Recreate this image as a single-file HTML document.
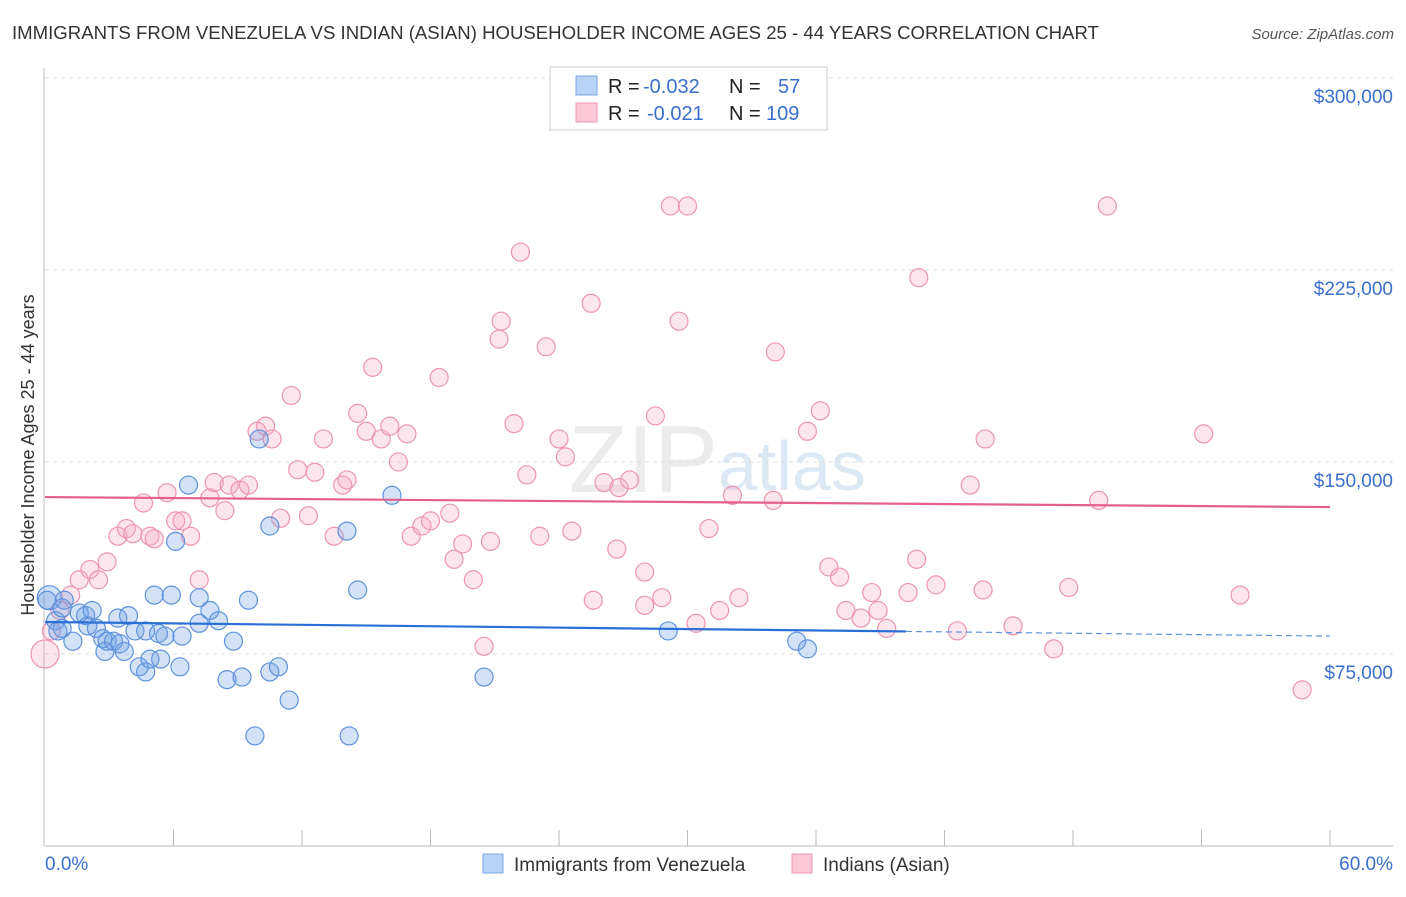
<!DOCTYPE html>
<html><head><meta charset="utf-8"><style>
body{margin:0;background:#fff;font-family:"Liberation Sans",sans-serif;}
svg text{font-family:"Liberation Sans",sans-serif;}
</style></head><body>
<svg id="c" width="1406" height="892" xmlns="http://www.w3.org/2000/svg">
<text x="12" y="39" font-size="18.6" fill="#333">IMMIGRANTS FROM VENEZUELA VS INDIAN (ASIAN) HOUSEHOLDER INCOME AGES 25 - 44 YEARS CORRELATION CHART</text>
<text x="1394" y="39" font-size="15" fill="#555" text-anchor="end" font-style="italic">Source: ZipAtlas.com</text>
<text x="718" y="492" font-size="96" fill="#ececec" text-anchor="end" font-family="Liberation Serif">ZIP</text>
<text x="718" y="490" font-size="70" fill="#dde8f5">atlas</text>
<g id="grid"></g>
<g id="marks"></g>
<text transform="translate(34,455) rotate(-90)" font-size="18" fill="#333" text-anchor="middle">Householder Income Ages 25 - 44 years</text>
<g>
<rect x="550" y="67" width="277" height="63" fill="#fff" stroke="#ccc"/>
<rect x="576" y="76" width="21" height="19" fill="#b8d3f5" stroke="#7aa7e6"/>
<rect x="576" y="103" width="21" height="19" fill="#fcc8d8" stroke="#ee9ab4"/>
<text x="608" y="93" font-size="20" fill="#222">R =</text>
<text x="643" y="93" font-size="20" fill="#3a6fcc">-0.032</text>
<text x="729" y="93" font-size="20" fill="#222">N =</text>
<text x="778" y="93" font-size="20" fill="#3a6fcc">57</text>
<text x="608" y="120" font-size="20" fill="#222">R =</text>
<text x="647" y="120" font-size="20" fill="#3a6fcc">-0.021</text>
<text x="729" y="120" font-size="20" fill="#222">N =</text>
<text x="766" y="120" font-size="20" fill="#3a6fcc">109</text>
</g>
<g>
<rect x="483" y="854" width="20" height="19" fill="#b8d3f5" stroke="#7aa7e6"/>
<text x="514" y="871" font-size="19" fill="#333">Immigrants from Venezuela</text>
<rect x="792" y="854" width="20" height="19" fill="#fcc8d8" stroke="#ee9ab4"/>
<text x="823" y="871" font-size="19" fill="#333">Indians (Asian)</text>
</g>
</svg>
<script>
const blueX=[0.2,0.5,0.8,0.9,1.3,1.6,1.9,2.0,2.2,2.4,2.7,2.8,2.9,3.2,3.5,3.4,3.7,3.9,4.2,4.4,4.7,4.9,4.7,5.1,5.3,5.4,5.6,5.9,6.1,6.3,6.4,6.7,7.2,7.2,7.7,8.1,8.5,8.8,9.2,9.5,9.8,10.0,10.5,10.5,10.9,11.4,14.1,14.2,14.6,16.2,20.5,29.1,35.1,35.6,0.1,0.6,0.8];
const blueY=[97,88,85,96,80,91,90,86,92,85,81,76,80,80,79,89,76,90,84,70,68,73,84,98,83,73,82,98,119,70,82,141,97,87,92,88,65,80,66,96,43,159,125,68,70,57,123,43,100,137,66,84,80,77,96,84,93];
const pinkX=[0,0.3,0.7,1.2,1.6,2.1,2.5,2.9,3.4,3.8,4.1,4.6,4.9,5.1,5.7,6.1,6.4,6.8,7.2,7.7,7.9,8.4,8.6,9.1,9.5,9.9,10.3,10.6,11.0,11.5,11.8,12.3,12.6,13.0,13.5,13.9,14.1,14.6,15.0,15.3,15.7,16.1,16.5,16.9,17.1,17.6,18.0,18.4,18.9,19.1,19.5,20.0,20.5,20.8,21.3,21.2,21.9,22.2,22.5,23.1,23.4,24.0,24.3,24.6,25.5,25.6,26.1,26.7,26.8,27.3,28.0,28.0,28.5,28.8,29.2,29.6,30.0,30.4,31.0,31.5,32.1,32.4,34.0,34.1,35.6,36.2,36.6,37.1,37.4,38.1,38.6,38.9,39.3,40.3,40.7,40.8,41.6,42.6,43.2,43.8,43.9,45.2,47.1,47.8,49.2,49.6,54.1,55.8,58.7];
const pinkY=[75,84,92,98,104,108,104,111,121,124,122,134,121,120,138,127,127,121,104,136,142,131,141,139,141,162,164,159,128,176,147,129,146,159,121,141,143,169,162,187,159,164,150,161,121,125,127,183,130,112,118,104,78,119,205,198,165,232,145,121,195,159,152,123,212,96,142,116,140,143,94,107,168,97,250,205,250,87,124,92,137,97,135,193,162,170,109,105,92,89,99,92,85,99,112,222,102,84,141,100,159,86,77,101,135,250,161,98,61];
const yTicks=[75000,150000,225000,300000];
const yTickLabels=["$75,000","$150,000","$225,000","$300,000"];
const xTickLabels=["0.0%","60.0%"];
const blueTrend=[87.5,82.0];
const pinkTrend=[136.3,132.4];
const blueSolidEnd=40.2;

const NS="http://www.w3.org/2000/svg";
const X0=45,X1=1330,Y0=846;
const xs=p=>X0+(p/60)*(X1-X0);
const ys=v=>Y0-(v/75000)*192;
const ysk=k=>ys(k*1000);
function mk(t,a,parent){const e=document.createElementNS(NS,t);for(const k in a)e.setAttribute(k,a[k]);parent.appendChild(e);return e;}
const grid=document.getElementById('grid'),marks=document.getElementById('marks'),svg=document.getElementById('c');
yTicks.forEach((v,i)=>{
 const l=mk('line',{x1:45,x2:1393,y1:ys(v),y2:ys(v),stroke:'#ddd','stroke-dasharray':'4,4'},grid);
 
 
 const t=mk('text',{x:1393,y:ys(v)+25,'font-size':19,fill:'#3a6fcc','text-anchor':'end'},svg);
 t.textContent=yTickLabels[i];
 
 
});
const ax=mk('line',{x1:44,x2:44,y1:68,y2:Y0,stroke:'#bbb'},grid);


const bx=mk('line',{x1:45,x2:1393,y1:Y0,y2:Y0,stroke:'#bbb'},grid);


for(let p=6;p<=60;p+=6){
 const tk=mk('line',{x1:xs(p),x2:xs(p),y1:830,y2:Y0,stroke:'#bbb'},grid);
 
 
}
const xl0=mk('text',{x:45,y:870,'font-size':19,fill:'#3a6fcc'},svg);xl0.textContent=xTickLabels[0];


const xl1=mk('text',{x:1393,y:870,'font-size':19,fill:'#3a6fcc','text-anchor':'end'},svg);xl1.textContent=xTickLabels[1];


pinkX.forEach((p,i)=>{
 const c=mk('circle',{cx:xs(p),cy:ysk(pinkY[i]),r:i==0?14:9,fill:'rgba(248,170,196,0.3)',stroke:'#ec95b1','stroke-width':1.2},marks);
 
 
});
blueX.forEach((p,i)=>{
 const c=mk('circle',{cx:xs(p),cy:ysk(blueY[i]),r:i==0?12:9,fill:'rgba(110,160,230,0.3)',stroke:'#5e92dc','stroke-width':1.2},marks);
 
 
});
const bAt=p=>blueTrend[0]+(blueTrend[1]-blueTrend[0])*p/60;
const bl=mk('line',{x1:xs(0),y1:ysk(bAt(0)),x2:xs(blueSolidEnd),y2:ysk(bAt(blueSolidEnd)),stroke:'#2a6fd6','stroke-width':2.2},marks);


const bd=mk('line',{x1:xs(blueSolidEnd),y1:ysk(bAt(blueSolidEnd)),x2:xs(60),y2:ysk(bAt(60)),stroke:'#5e92dc','stroke-width':1.2,'stroke-dasharray':'6,4'},marks);


const pl=mk('line',{x1:xs(0),y1:ysk(pinkTrend[0]),x2:xs(60),y2:ysk(pinkTrend[1]),stroke:'#e4608a','stroke-width':2.2},marks);


</script>
</body></html>
